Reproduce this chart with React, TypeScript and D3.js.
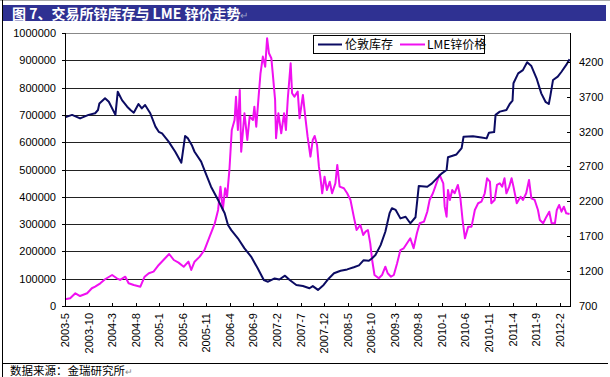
import React from 'react';
import * as d3 from 'd3';

// LME zinc stock (tonnes), x = months since 2003-5
const stockMonths = [
  0, 1.5, 3.2, 5.0, 6.4, 7.0, 7.3, 8.5, 9.3, 10.7,
  11.2, 12.1, 13.2, 13.9, 14.6, 15.6, 16.3, 17.0, 18.1, 19.2,
  19.9, 20.6, 22.0, 23.4, 24.7, 25.5, 26.1, 26.9, 27.5, 28.9,
  29.6, 31.0, 32.5, 33.9, 34.6, 35.3, 36.7, 38.1, 39.5, 40.9,
  42.2, 43.1, 44.5, 45.5, 46.7, 47.7, 49.1, 50.5, 51.9, 52.6,
  53.7, 54.9, 56.0, 57.1, 58.5, 59.9, 61.3, 62.4, 63.4, 64.5,
  65.2, 65.9, 67.0, 68.0, 68.9, 69.4, 70.2, 71.2, 72.3, 73.3,
  74.4, 75.1, 76.9, 77.9, 79.3, 80.0, 81.0, 81.3, 83.1, 84.2,
  84.6, 86.6, 88.4, 89.5, 90.0, 91.1, 91.4, 92.3, 93.7, 94.4,
  95.0, 95.2, 96.2, 97.2, 98.1, 99.0, 100.1, 101.1, 102.0, 102.7,
  103.0, 103.6, 104.6, 105.4, 106.4, 107.1,
];
const stockValues = [
  691000, 700000, 687000, 700000, 706000, 718000, 742000, 761000, 748000, 700000,
  785000, 754000, 730000, 718000, 708000, 740000, 724000, 736000, 706000, 657000,
  638000, 632000, 602000, 565000, 525000, 623000, 614000, 590000, 565000, 529000,
  498000, 437000, 388000, 340000, 297000, 278000, 248000, 211000, 181000, 138000,
  95000, 89000, 101000, 97000, 111000, 95000, 77000, 73000, 65000, 73000,
  59000, 77000, 101000, 120000, 129000, 134000, 142000, 149000, 168000, 166000,
  175000, 187000, 223000, 272000, 340000, 358000, 352000, 321000, 327000, 303000,
  325000, 440000, 437000, 449000, 474000, 486000, 498000, 545000, 555000, 578000,
  620000, 622000, 617000, 614000, 635000, 637000, 700000, 712000, 718000, 740000,
  752000, 816000, 852000, 864000, 893000, 879000, 834000, 779000, 748000, 740000,
  767000, 828000, 840000, 858000, 883000, 904000,
];

// LME zinc price (USD/t), x = months since 2003-5
const priceMonths = [
  0, 1.1, 2.2, 3.2, 4.7, 5.7, 6.4, 7.5, 8.5, 10.0,
  11.0, 11.7, 12.8, 13.5, 14.6, 16.0, 16.9, 17.8, 18.8, 19.9,
  20.9, 22.1, 23.1, 24.1, 25.2, 26.2, 26.8, 27.5, 28.6, 29.6,
  30.7, 31.8, 32.5, 33.0, 33.5, 34.0, 34.4, 34.9, 35.4, 36.0,
  36.3, 36.7, 37.1, 37.4, 38.1, 38.7, 39.2, 39.9, 40.2, 40.6,
  41.1, 41.5, 42.0, 42.5, 42.9, 43.3, 43.8, 44.1, 44.6, 44.8,
  45.3, 45.9, 46.5, 46.9, 47.3, 47.9, 48.2, 48.7, 49.4, 49.8,
  50.5, 51.0, 51.5, 52.1, 52.6, 53.0, 53.5, 53.9, 54.2, 54.6,
  55.1, 55.6, 56.2, 56.7, 57.4, 57.8, 58.3, 59.2, 59.9, 60.6,
  61.3, 61.9, 62.7, 63.3, 63.8, 64.3, 64.8, 65.2, 65.7, 66.6,
  67.3, 68.0, 68.5, 69.2, 69.8, 70.5, 71.2, 71.9, 72.6, 73.3,
  74.0, 74.7, 75.3, 76.2, 76.9, 77.4, 78.1, 78.6, 79.5, 80.3,
  80.6, 81.0, 81.3, 81.7, 82.2, 82.7, 83.4, 83.9, 84.4, 84.9,
  85.6, 86.3, 87.0, 87.7, 88.4, 89.1, 89.6, 90.2, 90.5, 91.2,
  91.7, 92.3, 92.8, 93.3, 93.7, 94.3, 94.8, 95.2, 95.9, 96.7,
  97.2, 97.9, 98.5, 99.0, 99.7, 100.4, 100.8, 101.5, 102.2, 102.8,
  103.3, 104.0, 104.4, 104.9, 105.4, 105.9, 106.4, 107.1,
];
const priceValues = [
  796, 810, 882, 843, 882, 954, 977, 1025, 1083, 1144,
  1097, 1073, 1120, 1025, 1001, 977, 1120, 1169, 1192, 1288,
  1359, 1445, 1359, 1321, 1263, 1335, 1216, 1335, 1407, 1502,
  1693, 1885, 2076, 2410, 2076, 2387, 2266, 2649, 3222, 3365,
  3699, 3222, 3795, 2911, 3461, 3079, 3413, 3365, 3556, 3269,
  3699, 4034, 4273, 4129, 4536, 4321, 4250, 4034, 3652, 3103,
  3461, 3174, 3461, 3222, 3676, 4178, 3748, 3699, 3771, 3389,
  3724, 3413, 3126, 2840, 3079, 3136, 3007, 2696, 2553, 2315,
  2553, 2362, 2481, 2315, 2458, 2721, 2410, 2387, 2315, 2219,
  1980, 1789, 1861, 1717, 1765, 1789, 1598, 1359, 1144, 1097,
  1144, 1263, 1169, 1120, 1144, 1312, 1502, 1527, 1598, 1670,
  1527, 1742, 1885, 1908, 2051, 2219, 2315, 2410, 2580, 2458,
  2123, 1980, 2362, 2219, 2362, 2315, 2434, 2266, 1932, 1670,
  1837, 1837, 2076, 2172, 2195, 2315, 2530, 2481, 2172, 2219,
  2434, 2458, 2410, 2530, 2315, 2410, 2530, 2410, 2172, 2266,
  2219, 2315, 2506, 2243, 2219, 2076, 1932, 1885, 1980, 2051,
  1885, 1885, 2076, 2147, 2051, 2123, 2028, 2018,
];

const xTickLabels = [
  '2003-5', '2003-10', '2004-3', '2004-8', '2005-1', '2005-6', '2005-11',
  '2006-4', '2006-9', '2007-2', '2007-7', '2007-12', '2008-5', '2008-10',
  '2009-3', '2009-8', '2010-1', '2010-6', '2010-11', '2011-4', '2011-9', '2012-2',
];
const leftTicks = [0, 100000, 200000, 300000, 400000, 500000, 600000, 700000, 800000, 900000, 1000000];
const rightTicks = [700, 1200, 1700, 2200, 2700, 3200, 3700, 4200];
const seriesNames = ['伦敦库存', 'LME锌价格'];

const STOCK_COLOR = '#0b0b62';
const PRICE_COLOR = '#f010f0';
const NUM_FONT = '"Liberation Sans", Arial, sans-serif';
const CJK_FONT = '"Noto Sans CJK SC", "Liberation Sans", sans-serif';

export default function App() {
  const W = 610, H = 377;
  const L = 65, R = 570, T = 33, B = 306;

  const x = d3.scaleLinear().domain([0, 107.2]).range([L, R]);
  const yL = d3.scaleLinear().domain([0, 1000000]).range([B, T]);
  const yR = d3.scaleLinear().domain([700, 4200]).range([B, 61.7]);

  const stockPath = d3.line<number>()
    .x((_, i) => x(stockMonths[i]))
    .y((d) => yL(d))(stockValues) || '';
  const pricePath = d3.line<number>()
    .x((_, i) => x(priceMonths[i]))
    .y((d) => yR(d))(priceValues) || '';

  const crisp = (v: number) => Math.round(v) + 0.5;

  return (
    <svg width={W} height={H} style={{ position: 'absolute', left: 0, top: 0, background: '#fff' }}>
      <rect x={0} y={0} width={W} height={H} fill="#fff" />
      {/* outer frame */}
      <line x1={0} x2={W} y1={0.5} y2={0.5} stroke="#aaa" />
      <line x1={2.5} x2={2.5} y1={0} y2={H} stroke="#000" />
      <line x1={2.5} x2={608} y1={363.5} y2={363.5} stroke="#000" />

      {/* title band */}
      <rect x={3} y={5} width={603} height={16} fill="#2f3192" />
      <text x={12} y={18.5} fill="#fff" fontFamily={CJK_FONT} fontWeight="bold" fontSize={14}>
        图 7、交易所锌库存与 LME 锌价走势
        <tspan fill="#9aa0c8" fontWeight="normal" fontSize={10}>↵</tspan>
      </text>

      {/* gridlines */}
      {leftTicks.slice(1, -1).map((t) => (
        <line key={'g' + t} x1={L} x2={R} y1={crisp(yL(t))} y2={crisp(yL(t))} stroke="#222" strokeWidth={1} />
      ))}

      {/* plot border */}
      <rect x={L + 0.5} y={T + 0.5} width={R - L} height={B - T} fill="none" stroke="#888" />

      {/* series */}
      <path d={pricePath} fill="none" stroke={PRICE_COLOR} strokeWidth={2} strokeLinejoin="round" />
      <path d={stockPath} fill="none" stroke={STOCK_COLOR} strokeWidth={2} strokeLinejoin="round" />

      {/* axes lines */}
      <line x1={L + 0.5} x2={L + 0.5} y1={T} y2={B} stroke="#000" />
      <line x1={R + 0.5} x2={R + 0.5} y1={T} y2={B} stroke="#000" />
      <line x1={L} x2={R + 1} y1={B + 0.5} y2={B + 0.5} stroke="#000" />

      {/* left axis */}
      {leftTicks.map((t) => (
        <g key={'l' + t}>
          <line x1={L - 3} x2={L} y1={crisp(yL(t))} y2={crisp(yL(t))} stroke="#000" />
          <text x={56} y={yL(t) + 4} textAnchor="end" fontFamily={NUM_FONT} fontSize={11} fill="#000">
            {t}
          </text>
        </g>
      ))}

      {/* right axis */}
      {rightTicks.map((t) => (
        <g key={'r' + t}>
          <line x1={R - 3} x2={R} y1={crisp(yR(t))} y2={crisp(yR(t))} stroke="#000" />
          <text x={579} y={yR(t) + 4} textAnchor="start" fontFamily={NUM_FONT} fontSize={11} fill="#000">
            {t}
          </text>
        </g>
      ))}

      {/* x axis */}
      {xTickLabels.map((lab, i) => {
        const xp = x(i * 5);
        return (
          <g key={lab}>
            <line x1={crisp(xp)} x2={crisp(xp)} y1={B - 3} y2={B} stroke="#000" />
            <text
              transform={`translate(${xp + 4},${B + 7}) rotate(-90)`}
              textAnchor="end"
              fontFamily={NUM_FONT}
              fontSize={11}
              fill="#000"
            >
              {lab}
            </text>
          </g>
        );
      })}

      {/* legend */}
      <rect x={313.5} y={35.5} width={171} height={18} fill="#fff" stroke="#000" />
      <line x1={318} x2={342} y1={44.5} y2={44.5} stroke={STOCK_COLOR} strokeWidth={2} />
      <text x={345} y={49} fontFamily={CJK_FONT} fontSize={12} fill="#000">{seriesNames[0]}</text>
      <line x1={400} x2={425} y1={44.5} y2={44.5} stroke={PRICE_COLOR} strokeWidth={2} />
      <text x={427} y={49} fontFamily={CJK_FONT} fontSize={12} fill="#000">{seriesNames[1]}</text>

      {/* source */}
      <text x={10} y={375} fontFamily={CJK_FONT} fontSize={11.5} fill="#000">
        数据来源：金瑞研究所
        <tspan fill="#888" fontSize={9}>↵</tspan>
      </text>
    </svg>
  );
}
